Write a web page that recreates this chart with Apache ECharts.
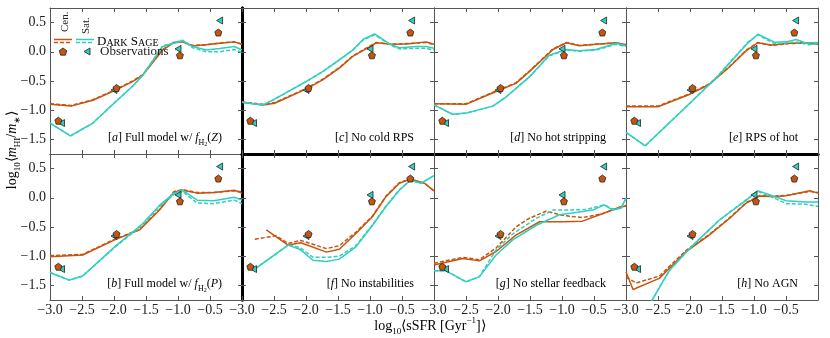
<!DOCTYPE html>
<html>
<head>
<meta charset="utf-8">
<script src="https://cdn.jsdelivr.net/npm/echarts@6/dist/echarts.min.js"></script>
<style>html,body{margin:0;padding:0;background:#fff}#main{width:830px;height:338px}</style>
</head>
<body>
<div id="main"></div>
<script>
// 观测点 (所有子图相同)
var obsCenX = [-2.87, -1.96, -0.97, -0.37];
var obsCenY = [-1.18, -0.62, -0.06, 0.33];
var obsSatX = [-2.82, -2.00, -1.00, -0.35];
var obsSatY = [-1.22, -0.655, 0.05, 0.535];

// x / y 刻度
var xTicks = [-3.0, -2.5, -2.0, -1.5, -1.0, -0.5];
var yTicks = [-1.5, -1.0, -0.5, 0.0, 0.5];

// [a] Full model w/ fH2(Z)
var a_cenSolid = [[-3,-0.90],[-2.67,-0.93],[-2.33,-0.83],[-2.0,-0.67],[-1.71,-0.51],[-1.55,-0.40],[-1.24,0.03],[-1.08,0.15],[-0.93,0.17],[-0.77,0.10],[-0.56,0.12],[-0.35,0.145],[-0.12,0.17],[0,0.13]];
var a_cenDash = [[-3,-0.89],[-2.67,-0.92],[-2.33,-0.82],[-2.0,-0.66],[-1.71,-0.50],[-1.55,-0.39],[-1.24,0.04],[-1.08,0.16],[-0.93,0.18],[-0.77,0.11],[-0.56,0.12],[-0.35,0.15],[-0.12,0.17],[0,0.13]];
var a_satSolid = [[-3,-1.22],[-2.68,-1.44],[-2.33,-1.22],[-2.0,-0.88],[-1.71,-0.59],[-1.55,-0.40],[-1.24,0.09],[-0.93,0.19],[-0.77,0.09],[-0.56,0.03],[-0.35,0.055],[-0.12,0.09],[0,0.03]];
var a_satDash = [[-3,-1.22],[-2.68,-1.44],[-2.33,-1.22],[-2.0,-0.88],[-1.71,-0.59],[-1.55,-0.40],[-1.24,0.10],[-0.93,0.20],[-0.77,0.07],[-0.56,0.0],[-0.35,0.0],[-0.12,0.04],[0,-0.01]];

// [b] Full model w/ fH2(P)
var b_cenSolid = [[-3,-1.01],[-2.49,-0.98],[-1.99,-0.72],[-1.6,-0.55],[-1.29,-0.21],[-1.06,0.10],[-0.93,0.13],[-0.70,0.08],[-0.44,0.09],[-0.12,0.13],[0,0.08]];
var b_cenDash = [[-3,-0.99],[-2.49,-0.97],[-1.99,-0.71],[-1.6,-0.54],[-1.29,-0.20],[-1.06,0.11],[-0.93,0.14],[-0.70,0.09],[-0.44,0.09],[-0.12,0.12],[0,0.10]];
var b_satSolid = [[-3,-1.28],[-2.7,-1.41],[-2.49,-1.34],[-1.99,-0.84],[-1.55,-0.44],[-1.29,-0.13],[-1.06,0.08],[-0.93,0.13],[-0.70,-0.04],[-0.44,-0.05],[-0.12,0.01],[0,-0.04]];
var b_satDash = [[-3,-1.28],[-2.7,-1.41],[-2.49,-1.34],[-1.99,-0.85],[-1.55,-0.46],[-1.29,-0.15],[-1.06,0.06],[-0.93,0.11],[-0.70,-0.09],[-0.44,-0.10],[-0.12,-0.04],[0,-0.10]];

// [c] No cold RPS
var c_cenSolid = [[-3,-0.865],[-2.67,-0.91],[-2.49,-0.88],[-2.0,-0.64],[-1.74,-0.48],[-1.48,-0.28],[-1.27,-0.08],[-1.0,0.09],[-0.9,0.155],[-0.67,0.13],[-0.43,0.135],[-0.12,0.17],[0,0.13]];
var c_cenDash = [[-3,-0.86],[-2.67,-0.90],[-2.49,-0.87],[-2.0,-0.63],[-1.74,-0.47],[-1.48,-0.27],[-1.27,-0.07],[-1.0,0.10],[-0.9,0.16],[-0.67,0.13],[-0.43,0.14],[-0.12,0.16],[0,0.12]];
var c_satSolid = [[-3,-0.865],[-2.67,-0.91],[-2.49,-0.81],[-2.0,-0.51],[-1.74,-0.34],[-1.48,-0.14],[-1.27,0.03],[-1.11,0.21],[-0.93,0.305],[-0.67,0.12],[-0.54,0.07],[-0.28,0.09],[-0.12,0.09],[0,0.06]];
var c_satDash = [[-3,-0.865],[-2.67,-0.91],[-2.49,-0.81],[-2.0,-0.51],[-1.74,-0.34],[-1.48,-0.14],[-1.27,0.03],[-1.11,0.20],[-0.93,0.29],[-0.67,0.11],[-0.54,0.05],[-0.28,0.06],[-0.12,0.06],[0,0.03]];

// [d] No hot stripping
var d_cenSolid = [[-3,-0.89],[-2.5,-0.90],[-2.03,-0.68],[-1.72,-0.54],[-1.51,-0.34],[-1.14,0.04],[-0.93,0.155],[-0.73,0.105],[-0.47,0.13],[-0.15,0.155],[0,0.12]];
var d_cenDash = [[-3,-0.89],[-2.5,-0.89],[-2.03,-0.67],[-1.72,-0.53],[-1.51,-0.33],[-1.14,0.05],[-0.93,0.16],[-0.73,0.11],[-0.47,0.13],[-0.15,0.15],[0,0.12]];
var d_satSolid = [[-3,-0.91],[-2.71,-1.07],[-2.5,-1.05],[-2.08,-0.93],[-1.87,-0.77],[-1.51,-0.43],[-1.2,-0.06],[-0.93,0.04],[-0.73,0.02],[-0.47,0.04],[-0.15,0.145],[0,0.10]];
var d_satDash = [[-3,-0.91],[-2.71,-1.07],[-2.5,-1.05],[-2.08,-0.93],[-1.87,-0.77],[-1.51,-0.43],[-1.2,-0.07],[-0.93,0.03],[-0.73,0.01],[-0.47,0.03],[-0.15,0.13],[0,0.09]];

// [e] RPS of hot
var e_cenSolid = [[-3,-0.94],[-2.5,-0.94],[-2.03,-0.74],[-1.7,-0.56],[-1.38,-0.255],[-1.12,0.02],[-0.94,0.155],[-0.73,0.115],[-0.45,0.145],[-0.19,0.155],[0,0.13]];
var e_cenDash = [[-3,-0.93],[-2.5,-0.93],[-2.03,-0.73],[-1.7,-0.55],[-1.38,-0.25],[-1.12,0.03],[-0.94,0.16],[-0.73,0.11],[-0.45,0.14],[-0.19,0.15],[0,0.13]];
var e_satSolid = [[-3,-1.38],[-2.7,-1.61],[-2.06,-0.94],[-1.59,-0.45],[-1.1,0.145],[-0.94,0.30],[-0.68,0.165],[-0.5,0.17],[-0.34,0.21],[-0.19,0.15],[0,0.16]];
var e_satDash = [[-3,-1.38],[-2.7,-1.61],[-2.06,-0.94],[-1.59,-0.44],[-1.1,0.16],[-0.94,0.29],[-0.68,0.14],[-0.5,0.15],[-0.34,0.17],[-0.15,0.12],[0,0.14]];

// [f] No instabilities
var f_cenSolid = [[-2.62,-0.55],[-2.28,-0.81],[-2.08,-0.77],[-1.68,-0.93],[-1.48,-0.88],[-1.22,-0.61],[-0.96,-0.32],[-0.75,0.02],[-0.54,0.25],[-0.37,0.32],[-0.15,0.25],[0,0.12]];
var f_cenDash = [[-2.8,-0.71],[-2.47,-0.65],[-2.28,-0.78],[-2.08,-0.73],[-1.68,-0.87],[-1.48,-0.82],[-1.22,-0.59],[-0.96,-0.31],[-0.75,0.03],[-0.54,0.26],[-0.37,0.32],[-0.15,0.25],[0,0.12]];
var f_satSolid = [[-2.8,-1.22],[-2.28,-0.81],[-2.1,-0.88],[-1.89,-1.07],[-1.68,-1.09],[-1.48,-1.05],[-1.22,-0.84],[-0.96,-0.47],[-0.75,-0.15],[-0.54,0.13],[-0.37,0.30],[-0.2,0.25],[0,0.38]];
var f_satDash = [[-2.8,-1.22],[-2.28,-0.81],[-2.1,-0.85],[-1.89,-1.02],[-1.68,-1.02],[-1.48,-1.00],[-1.22,-0.82],[-0.96,-0.46],[-0.75,-0.14],[-0.54,0.14],[-0.37,0.30],[-0.2,0.25],[0,0.38]];

// [g] No stellar feedback
var g_cenSolid = [[-3,-1.15],[-2.55,-1.04],[-2.29,-1.08],[-2.03,-0.92],[-1.72,-0.64],[-1.35,-0.41],[-0.99,-0.41],[-0.68,-0.40],[-0.36,-0.27],[-0.1,-0.16],[0,-0.14]];
var g_cenDash = [[-3,-1.12],[-2.55,-1.02],[-2.29,-1.06],[-2.03,-0.86],[-1.72,-0.50],[-1.51,-0.35],[-1.25,-0.23],[-0.99,-0.30],[-0.68,-0.34],[-0.36,-0.27],[-0.1,-0.16],[0,-0.14]];
var g_satSolid = [[-3,-1.25],[-2.81,-1.25],[-2.5,-1.44],[-2.29,-1.35],[-2.03,-0.98],[-1.77,-0.72],[-1.4,-0.47],[-1.04,-0.29],[-0.78,-0.25],[-0.52,-0.21],[-0.34,-0.12],[-0.21,-0.21],[-0.08,-0.18],[0,-0.01]];
var g_satDash = [[-3,-1.25],[-2.81,-1.25],[-2.5,-1.44],[-2.29,-1.35],[-2.03,-0.89],[-1.77,-0.62],[-1.4,-0.35],[-1.14,-0.21],[-0.88,-0.21],[-0.62,-0.20],[-0.34,-0.12],[-0.21,-0.19],[-0.08,-0.18],[0,-0.01]];

// [h] No AGN
var h_cenSolid = [[-3,-1.27],[-2.89,-1.57],[-2.48,-1.38],[-2.06,-0.92],[-1.7,-0.64],[-1.38,-0.35],[-1.12,-0.09],[-0.91,0.03],[-0.67,0.02],[-0.5,0.035],[-0.13,0.12],[0,0.08]];
var h_cenDash = [[-3,-1.36],[-2.84,-1.46],[-2.48,-1.34],[-2.06,-0.90],[-1.7,-0.63],[-1.38,-0.34],[-1.12,-0.08],[-0.91,0.04],[-0.67,0.03],[-0.5,0.04],[-0.13,0.11],[0,0.09]];
var h_satSolid = [[-2.75,-2.05],[-2.32,-1.24],[-1.98,-0.84],[-1.54,-0.38],[-1.12,-0.04],[-0.94,0.12],[-0.67,0.02],[-0.5,-0.05],[-0.19,-0.07],[0,-0.07]];
var h_satDash = [[-2.75,-2.05],[-2.32,-1.24],[-1.98,-0.84],[-1.54,-0.38],[-1.12,-0.03],[-0.94,0.11],[-0.67,-0.01],[-0.5,-0.10],[-0.19,-0.11],[0,-0.15]];

var FONT = 'Liberation Serif';
var ORANGE = '#c8540f', TEAL = '#2fd0bf', FRAME = '#555', TXT = '#222';
var colLeft = [50, 242, 434, 626], rowTop = [8, 154], PW = 192, PH = 146;
var PENTAGON = 'path://M5,0 L10,3.8 L8.1,10 L1.9,10 L0,3.8 Z';
var LTRI = 'path://M0,5 L10,0 L10,10 Z';

// 子图: 顺序 上排 a c d e, 下排 b f g h
var panels = [
    {col: 0, row: 0, tag: 'a', text: '] Full model w/ ', fx: 'Z', lines: [a_cenSolid, a_cenDash, a_satSolid, a_satDash]},
    {col: 1, row: 0, tag: 'c', text: '] No cold RPS', lines: [c_cenSolid, c_cenDash, c_satSolid, c_satDash]},
    {col: 2, row: 0, tag: 'd', text: '] No hot stripping', lines: [d_cenSolid, d_cenDash, d_satSolid, d_satDash]},
    {col: 3, row: 0, tag: 'e', text: '] RPS of hot', lines: [e_cenSolid, e_cenDash, e_satSolid, e_satDash]},
    {col: 0, row: 1, tag: 'b', text: '] Full model w/ ', fx: 'P', lines: [b_cenSolid, b_cenDash, b_satSolid, b_satDash]},
    {col: 1, row: 1, tag: 'f', text: '] No instabilities', lines: [f_cenSolid, f_cenDash, f_satSolid, f_satDash]},
    {col: 2, row: 1, tag: 'g', text: '] No stellar feedback', lines: [g_cenSolid, g_cenDash, g_satSolid, g_satDash]},
    {col: 3, row: 1, tag: 'h', text: '] No AGN', lines: [h_cenSolid, h_cenDash, h_satSolid, h_satDash]}
];

function fmt(v) {
    return Number(v).toFixed(1).replace('-', '\u2212');
}

function zip(xs, ys) {
    var out = [];
    for (var i = 0; i < xs.length; i++) out.push([xs[i], ys[i]]);
    return out;
}

function richLabel() {
    return {
        n: {fontFamily: FONT, fontSize: 12, lineHeight: 18, color: TXT},
        i: {fontFamily: FONT, fontSize: 12, lineHeight: 18, fontStyle: 'italic', color: TXT},
        s: {fontFamily: FONT, fontSize: 8, verticalAlign: 'bottom', color: TXT},
        ss: {fontFamily: FONT, fontSize: 6, verticalAlign: 'bottom', color: TXT}
    };
}

function axisLine(thick) {
    return thick ? {onZero: false, lineStyle: {color: '#000', width: 3}} : {onZero: false, lineStyle: {color: FRAME, width: 1}};
}

function tickX() {
    return {show: true, inside: true, length: 4, lineStyle: {color: FRAME}};
}

var grids = [], xAxes = [], yAxes = [], series = [], graphics = [];

for (var p = 0; p < panels.length; p++) {
    var pn = panels[p];
    var gLeft = colLeft[pn.col], gTop = rowTop[pn.row];
    grids.push({left: gLeft, top: gTop, width: PW, height: PH, show: false});

    // 下 x 轴
    xAxes.push({
        type: 'value', gridIndex: p, position: 'bottom', min: -3, max: 0, interval: 0.5,
        axisLine: axisLine(pn.row === 0 && pn.col > 0),
        axisTick: tickX(), splitLine: {show: false},
        axisLabel: {show: pn.row === 1, formatter: function (v) { return v === 0 ? '' : fmt(v); },
            margin: 3, fontFamily: FONT, fontSize: 14, color: TXT}
    });
    // 上 x 轴
    xAxes.push({
        type: 'value', gridIndex: p, position: 'top', min: -3, max: 0, interval: 0.5,
        axisLine: axisLine(pn.row === 1 && pn.col > 0),
        axisTick: tickX(), splitLine: {show: false}, axisLabel: {show: false}
    });
    // 左 y 轴 (min -1.75 不是 0.5 的倍数, 用 0.25 间隔, 只标 0.5 的倍数)
    yAxes.push({
        type: 'value', gridIndex: p, position: 'left', min: -1.75, max: 0.75, interval: 0.25,
        axisLine: axisLine(pn.col === 1),
        axisTick: {show: true, inside: true, length: 4, lineStyle: {color: FRAME}, customValues: yTicks.slice()},
        splitLine: {show: false},
        axisLabel: {show: pn.col === 0, customValues: yTicks.slice(), formatter: fmt, margin: 4,
            fontFamily: FONT, fontSize: 14, color: TXT}
    });
    // 右 y 轴
    yAxes.push({
        type: 'value', gridIndex: p, position: 'right', min: -1.75, max: 0.75, interval: 0.25,
        axisLine: axisLine(pn.col === 0),
        axisTick: {show: true, inside: true, length: 4, lineStyle: {color: FRAME}, customValues: yTicks.slice()},
        splitLine: {show: false}, axisLabel: {show: false}
    });

    var xi = 2 * p, yi = 2 * p;
    var colors = [ORANGE, ORANGE, TEAL, TEAL];
    var dashed = [false, true, false, true];
    for (var k = 0; k < 4; k++) {
        series.push({
            type: 'line', xAxisIndex: xi, yAxisIndex: yi, data: pn.lines[k],
            showSymbol: false, symbol: 'none', clip: true, z: 2,
            lineStyle: {color: colors[k], width: 1.5, type: dashed[k] ? [4, 2] : 'solid'}
        });
    }
    series.push({
        type: 'scatter', xAxisIndex: xi, yAxisIndex: yi, data: zip(obsSatX, obsSatY),
        symbol: LTRI, symbolSize: [6, 7], z: 4,
        itemStyle: {color: TEAL, opacity: 1, borderColor: '#222', borderWidth: 0.8}
    });
    series.push({
        type: 'scatter', xAxisIndex: xi, yAxisIndex: yi, data: zip(obsCenX, obsCenY),
        symbol: PENTAGON, symbolSize: [7, 7], z: 4,
        itemStyle: {color: ORANGE, opacity: 1, borderColor: '#222', borderWidth: 0.8}
    });

    // 子图标签
    var txt = '{n|[}{i|' + pn.tag + '}{n|' + pn.text + '}';
    if (pn.fx) txt += '{i|f}{s|H}{ss|2}{n|(}{i|' + pn.fx + '}{n|)}';
    graphics.push({
        type: 'text', x: gLeft + PW - 20, y: gTop + 130, z: 10,
        style: {text: txt, rich: richLabel(), align: 'right', verticalAlign: 'middle'}
    });
}

function richTitle() {
    return {
        n: {fontFamily: FONT, fontSize: 14, lineHeight: 20, color: TXT},
        i: {fontFamily: FONT, fontSize: 14, lineHeight: 20, fontStyle: 'italic', color: TXT},
        s: {fontFamily: FONT, fontSize: 9, verticalAlign: 'bottom', color: TXT},
        u: {fontFamily: FONT, fontSize: 9, verticalAlign: 'top', color: TXT}
    };
}

// 坐标轴标题
graphics.push({
    type: 'text', x: 430, y: 326,
    style: {text: '{n|log}{s|10}{n|\u27e8sSFR [Gyr}{u|\u22121}{n|]\u27e9}', rich: richTitle(),
        align: 'center', verticalAlign: 'middle'}
});
graphics.push({
    type: 'text', x: 12, y: 150, rotation: Math.PI / 2,
    style: {text: '{n|log}{s|10}{n|\u27e8}{i|m}{s|HI}{n|/}{i|m}{s|\u2217}{n|\u27e9}', rich: richTitle(),
        align: 'center', verticalAlign: 'middle'}
});

// 图例 (画在子图 a 中)
graphics.push({type: 'text', x: 65, y: 32, rotation: Math.PI / 2, z: 10,
    style: {text: 'Cen.', align: 'left', verticalAlign: 'middle', fontFamily: FONT, fontSize: 11, fill: TXT}});
graphics.push({type: 'text', x: 86, y: 34, rotation: Math.PI / 2, z: 10,
    style: {text: 'Sat.', align: 'left', verticalAlign: 'middle', fontFamily: FONT, fontSize: 11, fill: TXT}});
graphics.push({type: 'line', z: 10, shape: {x1: 54, y1: 39.5, x2: 72, y2: 39.5}, style: {stroke: ORANGE, lineWidth: 1.5}});
graphics.push({type: 'line', z: 10, shape: {x1: 54, y1: 42.5, x2: 72, y2: 42.5}, style: {stroke: ORANGE, lineWidth: 1.5, lineDash: [4, 2]}});
graphics.push({type: 'line', z: 10, shape: {x1: 76, y1: 39.5, x2: 94, y2: 39.5}, style: {stroke: TEAL, lineWidth: 1.5}});
graphics.push({type: 'line', z: 10, shape: {x1: 76, y1: 42.5, x2: 94, y2: 42.5}, style: {stroke: TEAL, lineWidth: 1.5, lineDash: [4, 2]}});
graphics.push({
    type: 'text', x: 97, y: 40.5, z: 10,
    style: {text: '{b|D}{c|ARK} {b|S}{c|AGE}', verticalAlign: 'middle', rich: {
        b: {fontFamily: FONT, fontSize: 13, lineHeight: 16, verticalAlign: 'bottom', color: TXT},
        c: {fontFamily: FONT, fontSize: 10, lineHeight: 14, verticalAlign: 'bottom', color: TXT}
    }}
});
graphics.push({type: 'polygon', z: 10, shape: {points: [[63, 48], [66.8, 50.7], [65.3, 55.2], [60.7, 55.2], [59.2, 50.7]]},
    style: {fill: ORANGE, stroke: '#222', lineWidth: 0.8}});
graphics.push({type: 'polygon', z: 10, shape: {points: [[84, 51.5], [90, 48], [90, 55]]},
    style: {fill: TEAL, stroke: '#222', lineWidth: 0.8}});
graphics.push({type: 'text', x: 100, y: 52, z: 10,
    style: {text: 'Observations', align: 'left', verticalAlign: 'middle', fontFamily: FONT, fontSize: 13, fill: TXT}});

var option = {
    backgroundColor: '#fff',
    animation: false,
    grid: grids,
    xAxis: xAxes,
    yAxis: yAxes,
    series: series,
    graphic: graphics
};

var myChart = echarts.init(document.getElementById('main'), null, {renderer: 'canvas'});
myChart.setOption(option);
</script>
</body>
</html>
